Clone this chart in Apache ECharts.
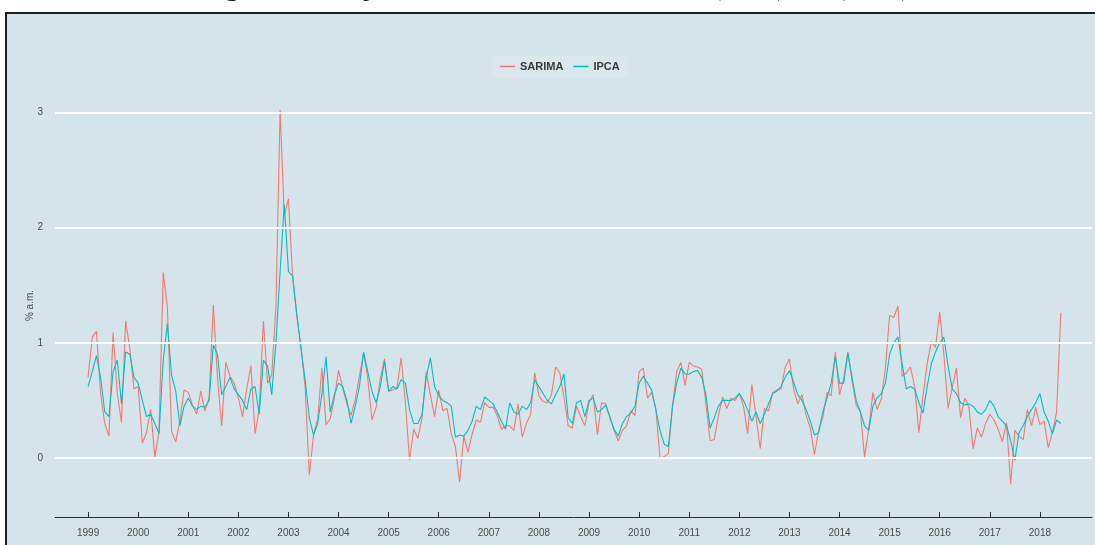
<!DOCTYPE html>
<html>
<head>
<meta charset="utf-8">
<script src="https://cdn.jsdelivr.net/npm/echarts@6/dist/echarts.min.js"></script>
<style>
  html, body { margin: 0; padding: 0; background: #ffffff; }
  #chart { width: 1095px; height: 545px; }
</style>
</head>
<body>
<div id="chart"></div>
<script>
// Monthly inflation, % a.m., from 1999-01 to 2018-06
const startYear = 1999;

const seriesNames = ['SARIMA', 'IPCA'];

const sarima = [
  0.70, 1.05, 1.10, 0.56, 0.30, 0.19, 1.09, 0.56, 0.31, 1.19, 0.95, 0.60,
  0.62, 0.13, 0.22, 0.42, 0.01, 0.23, 1.61, 1.31, 0.23, 0.14, 0.32, 0.59,
  0.57, 0.46, 0.38, 0.58, 0.41, 0.52, 1.33, 0.70, 0.28, 0.83, 0.71, 0.65,
  0.52, 0.36, 0.60, 0.80, 0.21, 0.42, 1.19, 0.65, 0.72, 1.31, 3.02, 2.10,
  2.25, 1.57, 1.23, 0.97, 0.61, -0.15, 0.20, 0.34, 0.78, 0.29, 0.34, 0.52,
  0.76, 0.61, 0.47, 0.37, 0.51, 0.71, 0.91, 0.69, 0.33, 0.44, 0.69, 0.86,
  0.58, 0.59, 0.61, 0.87, 0.49, -0.02, 0.25, 0.17, 0.35, 0.75, 0.55, 0.36,
  0.59, 0.41, 0.43, 0.21, 0.10, -0.21, 0.19, 0.05, 0.21, 0.33, 0.31, 0.48,
  0.44, 0.44, 0.37, 0.25, 0.28, 0.28, 0.24, 0.47, 0.18, 0.30, 0.38, 0.74,
  0.54, 0.49, 0.48, 0.55, 0.79, 0.74, 0.53, 0.28, 0.26, 0.45, 0.36, 0.28,
  0.48, 0.55, 0.20, 0.48, 0.47, 0.36, 0.24, 0.15, 0.24, 0.28, 0.41, 0.37,
  0.75, 0.78, 0.52, 0.57, 0.43, 0.00, 0.01, 0.04, 0.45, 0.75, 0.83, 0.63,
  0.83, 0.80, 0.79, 0.77, 0.47, 0.15, 0.16, 0.37, 0.53, 0.43, 0.52, 0.50,
  0.56, 0.45, 0.21, 0.64, 0.36, 0.08, 0.43, 0.41, 0.57, 0.59, 0.60, 0.79,
  0.86, 0.60, 0.47, 0.55, 0.37, 0.26, 0.03, 0.24, 0.35, 0.57, 0.54, 0.92,
  0.55, 0.69, 0.92, 0.67, 0.46, 0.40, 0.01, 0.25, 0.57, 0.42, 0.51, 0.78,
  1.24, 1.22, 1.32, 0.71, 0.74, 0.79, 0.62, 0.22, 0.54, 0.82, 1.01, 0.96,
  1.27, 0.90, 0.43, 0.61, 0.78, 0.35, 0.52, 0.44, 0.08, 0.26, 0.18, 0.30,
  0.38, 0.33, 0.25, 0.14, 0.31, -0.23, 0.24, 0.19, 0.16, 0.42, 0.28, 0.44,
  0.29, 0.32, 0.09, 0.22, 0.40, 1.26
];

const ipca = [
  0.62, 0.75, 0.89, 0.70, 0.40, 0.36, 0.75, 0.85, 0.47, 0.92, 0.90, 0.70,
  0.65, 0.50, 0.36, 0.38, 0.30, 0.21, 0.85, 1.17, 0.72, 0.58, 0.28, 0.45,
  0.52, 0.45, 0.42, 0.45, 0.44, 0.50, 0.98, 0.90, 0.55, 0.62, 0.70, 0.60,
  0.55, 0.50, 0.42, 0.60, 0.62, 0.38, 0.85, 0.80, 0.55, 1.00, 1.62, 2.20,
  1.62, 1.58, 1.25, 0.95, 0.68, 0.35, 0.20, 0.30, 0.55, 0.88, 0.40, 0.55,
  0.65, 0.62, 0.50, 0.30, 0.45, 0.62, 0.92, 0.75, 0.58, 0.48, 0.62, 0.84,
  0.58, 0.62, 0.60, 0.68, 0.65, 0.42, 0.30, 0.30, 0.38, 0.70, 0.87, 0.62,
  0.54, 0.50, 0.48, 0.45, 0.18, 0.20, 0.19, 0.24, 0.32, 0.45, 0.42, 0.53,
  0.50, 0.47, 0.40, 0.32, 0.25, 0.48, 0.40, 0.38, 0.45, 0.42, 0.48, 0.68,
  0.62, 0.56, 0.50, 0.47, 0.55, 0.62, 0.73, 0.35, 0.30, 0.48, 0.50, 0.36,
  0.50, 0.52, 0.40, 0.42, 0.46, 0.35, 0.25, 0.19, 0.30, 0.36, 0.39, 0.45,
  0.65, 0.71, 0.65, 0.59, 0.42, 0.24, 0.12, 0.10, 0.45, 0.65, 0.78, 0.73,
  0.73, 0.75, 0.76, 0.70, 0.55, 0.26, 0.35, 0.45, 0.50, 0.50, 0.50, 0.52,
  0.56, 0.50, 0.42, 0.32, 0.40, 0.30, 0.38, 0.47, 0.56, 0.58, 0.62, 0.70,
  0.76, 0.66, 0.55, 0.50, 0.42, 0.32, 0.20, 0.22, 0.40, 0.52, 0.65, 0.88,
  0.65, 0.65, 0.91, 0.70, 0.50, 0.40, 0.28, 0.24, 0.45, 0.52, 0.56, 0.65,
  0.90, 1.00, 1.05, 0.82, 0.60, 0.62, 0.60, 0.48, 0.39, 0.62, 0.82, 0.92,
  1.00, 1.05, 0.80, 0.60, 0.56, 0.48, 0.46, 0.47, 0.45, 0.40, 0.38, 0.42,
  0.50, 0.45, 0.36, 0.32, 0.28, 0.15, -0.02, 0.22, 0.28, 0.36, 0.42, 0.48,
  0.56, 0.40, 0.32, 0.21, 0.33, 0.30
];

const yearTicks = [1999, 2000, 2001, 2002, 2003, 2004, 2005, 2006, 2007, 2008,
                   2009, 2010, 2011, 2012, 2013, 2014, 2015, 2016, 2017, 2018];
const valueTicks = [0, 1, 2, 3];

// place each monthly value at its fractional year on the time scale
const toPoints = arr => arr.map((v, i) => [startYear + i / 12, v]);

const textColor = '#4a4a4a';
const captionFont = 'bold 28px "Liberation Serif"';
const chart = echarts.init(document.getElementById('chart'), null, { renderer: 'canvas' });

chart.setOption({
  backgroundColor: '#ffffff',
  animation: false,
  graphic: [
    {
      type: 'rect', z: -10, silent: true,
      shape: { x: 6, y: 13, width: 1100, height: 540 },
      style: { fill: '#d5e4eb', stroke: '#1e1e1e', lineWidth: 2 }
    },
    // figure caption sitting above the frame
    {
      type: 'text', silent: true, left: 200, top: -26,
      style: { text: 'Figura 10 – Ajuste do modelo', font: captionFont, fill: '#111' }
    },
    {
      type: 'text', silent: true, left: 712, top: -26,
      style: { text: '(1,1,1)', font: captionFont, fill: '#111' }
    },
    {
      type: 'text', silent: true, left: 836, top: -26,
      style: { text: '(1,1,1)', font: captionFont, fill: '#111' }
    }
  ],
  legend: {
    data: seriesNames,
    left: 492, top: 56,
    padding: [5, 8],
    backgroundColor: 'rgba(255,255,255,0.12)',
    icon: 'rect',
    itemWidth: 15, itemHeight: 1.5,
    itemGap: 10,
    textStyle: { fontFamily: 'Liberation Sans', fontSize: 11, fontWeight: 'bold', color: '#3a3a3a' }
  },
  grid: { left: 55, right: 3, top: 94, bottom: 28, containLabel: false },
  xAxis: {
    type: 'value',
    min: 1998.34, max: 2019.04,
    axisLine: { show: true, onZero: false, lineStyle: { color: '#2b2b2b', width: 1 } },
    axisTick: { show: true, inside: true, length: 5, customValues: yearTicks, lineStyle: { color: '#2b2b2b' } },
    axisLabel: {
      customValues: yearTicks, margin: 11,
      formatter: v => String(Math.round(v)),
      fontFamily: 'Liberation Sans', fontSize: 10, color: textColor
    },
    splitLine: { show: false }
  },
  yAxis: {
    type: 'value',
    min: -0.512, max: 3.16,
    name: '% a.m.', nameLocation: 'middle', nameGap: 20, nameRotate: 90,
    nameMoveOverlap: false,
    nameTextStyle: { fontFamily: 'Liberation Sans', fontSize: 10, color: textColor },
    axisLine: { show: false },
    axisTick: { show: false },
    axisLabel: {
      customValues: valueTicks, margin: 12,
      fontFamily: 'Liberation Sans', fontSize: 10, color: textColor
    },
    splitLine: { show: false }
  },
  series: [
    {
      name: 'grid', type: 'line', data: [], z: 1, silent: true,
      markLine: {
        silent: true, symbol: 'none', label: { show: false },
        lineStyle: { color: '#ffffff', width: 2, type: 'solid' },
        data: valueTicks.map(v => ({ yAxis: v }))
      }
    },
    {
      name: 'SARIMA', type: 'line', data: toPoints(sarima), z: 3,
      showSymbol: false, symbol: 'none',
      lineStyle: { color: '#F8766D', width: 1.1 }, itemStyle: { color: '#F8766D' }
    },
    {
      name: 'IPCA', type: 'line', data: toPoints(ipca), z: 4,
      showSymbol: false, symbol: 'none',
      lineStyle: { color: '#00BFC4', width: 1.1 }, itemStyle: { color: '#00BFC4' }
    }
  ]
});
</script>
</body>
</html>
